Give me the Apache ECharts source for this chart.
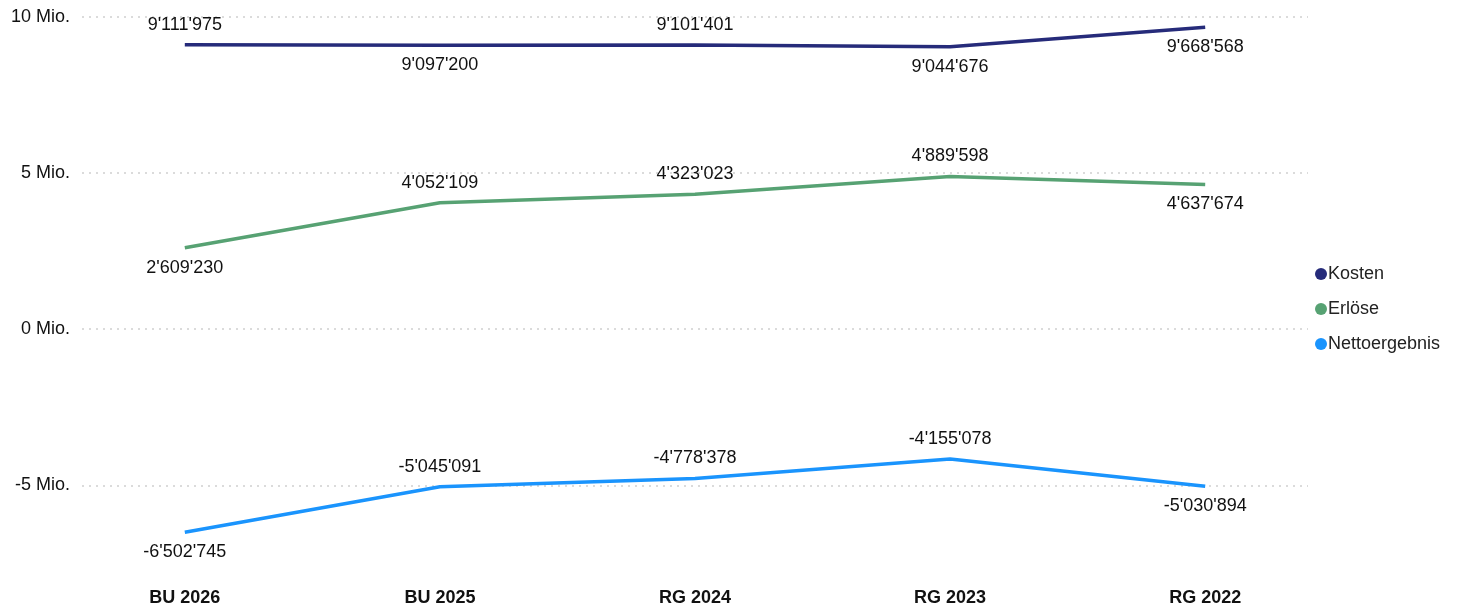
<!DOCTYPE html>
<html>
<head>
<meta charset="utf-8">
<script src="https://cdn.jsdelivr.net/npm/echarts@6/dist/echarts.min.js"></script>
<style>
  html, body { margin: 0; padding: 0; background: #fff; }
  #chart { width: 1458px; height: 608px; }
</style>
</head>
<body>
<div id="chart"></div>
<script>
const categories = ['BU 2026', 'BU 2025', 'RG 2024', 'RG 2023', 'RG 2022']
const kosten = [9111975, 9097200, 9101401, 9044676, 9668568]
const erloese = [2609230, 4052109, 4323023, 4889598, 4637674]
const netto = [-6502745, -5045091, -4778378, -4155078, -5030894]
const yTicks = [-5000000, 0, 5000000, 10000000]

// label above or below each point, as in the picture
const kostenPos = ['top', 'bottom', 'top', 'bottom', 'bottom']
const erloesePos = ['bottom', 'top', 'top', 'top', 'bottom']
const nettoPos = ['bottom', 'top', 'top', 'top', 'bottom']

function fmt(v) {
  const s = String(Math.abs(v)).replace(/\B(?=(\d{3})+(?!\d))/g, "'")
  return (v < 0 ? '-' : '') + s
}

function makeSeries(name, values, positions, color) {
  return {
    name: name,
    type: 'line',
    showSymbol: true,
    symbol: 'circle',
    symbolSize: 0.1,
    lineStyle: { width: 3.5, color: color },
    itemStyle: { color: color },
    data: values.map((v, i) => ({
      value: [i, v],
      label: { position: positions[i] }
    })),
    label: {
      show: true,
      distance: 11,
      fontFamily: 'Liberation Sans, Arial, sans-serif',
      fontSize: 18,
      color: '#111',
      formatter: p => fmt(p.value[1])
    }
  }
}

const chart = echarts.init(document.getElementById('chart'))
chart.setOption({
  animation: false,
  textStyle: { fontFamily: 'Liberation Sans, Arial, sans-serif' },
  grid: { left: 82, right: 150, top: 17, bottom: 29, containLabel: false },
  legend: {
    orient: 'vertical',
    left: 1310,
    top: 260,
    itemGap: 17,
    itemWidth: 12,
    itemHeight: 12,
    icon: 'circle',
    textStyle: { fontSize: 18, color: '#222', padding: [0, 0, 0, -4] },
    data: ['Kosten', 'Erlöse', 'Nettoergebnis']
  },
  xAxis: {
    type: 'value',
    min: -0.403,
    max: 4.403,
    splitLine: { show: false },
    axisLine: { show: false },
    axisTick: { show: false },
    axisLabel: {
      customValues: [0, 1, 2, 3, 4],
      margin: 10,
      fontSize: 18,
      fontWeight: 'bold',
      color: '#111',
      formatter: v => categories[Math.round(v)]
    }
  },
  yAxis: {
    type: 'value',
    min: -8000000,
    max: 10000000,
    axisLine: { show: false },
    axisTick: { show: false, customValues: yTicks },
    splitLine: { show: true, lineStyle: { type: [2, 5], color: '#cfcfcf', width: 1.5 } },
    axisLabel: {
      customValues: yTicks,
      margin: 12,
      fontSize: 18,
      color: '#111',
      formatter: v => (v / 1000000) + ' Mio.'
    }
  },
  series: [
    makeSeries('Kosten', kosten, kostenPos, '#262b7a'),
    makeSeries('Erlöse', erloese, erloesePos, '#57a273'),
    makeSeries('Nettoergebnis', netto, nettoPos, '#1a94fd')
  ]
})
</script>
</body>
</html>
